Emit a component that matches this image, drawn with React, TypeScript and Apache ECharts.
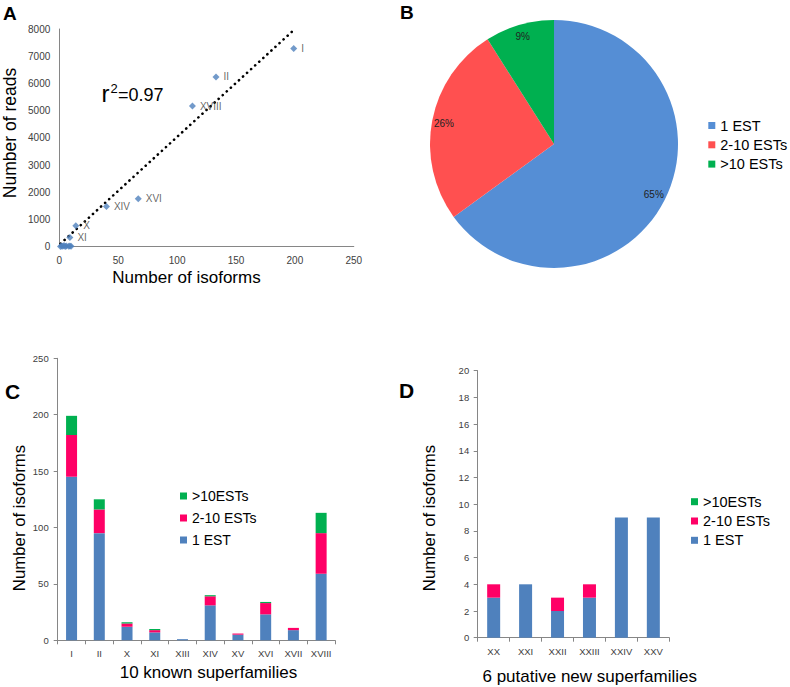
import React, { useEffect, useRef } from 'react';
import * as echarts from 'echarts';

// Panel A: scatter of isoforms vs reads
const scatterIsoforms = [199, 133, 113, 67, 40, 14, 9, 1, 2, 3, 4, 5, 6, 8, 9, 10];
const scatterReads = [7280, 6240, 5170, 1760, 1480, 770, 340, 10, 30, 20, 40, 10, 25, 15, 30, 20];
const scatterLabels = ['I', 'II', 'XVIII', 'XVI', 'XIV', 'X', 'XI', '', '', '', '', '', '', '', '', ''];
const trendIsoforms = [1, 200];
const trendReads = [110, 8000];

// Panel B: pie
const pieNames = ['1 EST', '2-10 ESTs', '>10 ESTs'];
const pieValues = [65, 26, 9];

// Panel C: known superfamilies
const knownFamilies = ['I', 'II', 'X', 'XI', 'XIII', 'XIV', 'XV', 'XVI', 'XVII', 'XVIII'];
const known1EST = [145, 95, 12, 7, 1, 31, 5, 23, 9, 59];
const known2to10 = [37, 21, 3, 2, 0, 8, 1, 10, 2, 36];
const knownOver10 = [17, 9, 1, 1, 0, 1, 0, 1, 0, 18];

// Panel D: putative new superfamilies
const newFamilies = ['XX', 'XXI', 'XXII', 'XXIII', 'XXIV', 'XXV'];
const new1EST = [3, 4, 2, 3, 9, 9];
const new2to10 = [1, 0, 1, 1, 0, 0];
const newOver10 = [0, 0, 0, 0, 0, 0];

const FONT = '"Liberation Sans", Arial, sans-serif';
const AXIS_GRAY = '#868686';
const BLUE = '#4F81BD';
const PINK = '#FF0066';
const GREEN = '#00B050';
const PIE_COLORS = ['#558ED5', '#FF5050', '#00B050'];

export default function App() {
  const ref = useRef<HTMLDivElement>(null);

  useEffect(() => {
    if (!ref.current) return;
    const chart = echarts.init(ref.current, undefined, { renderer: 'svg' });

    const tickLabel = (size: number, color: string, margin: number) => ({
      fontSize: size,
      color,
      fontFamily: FONT,
      margin,
      formatter: (v: any) => String(v),
    });

    const axisLine = { show: true, onZero: false, lineStyle: { color: AXIS_GRAY, width: 1 } };

    const barSeries = (
      name: string,
      data: number[],
      color: string,
      idx: number,
      stack: string,
      width: number
    ) => ({
      type: 'bar',
      name,
      data,
      stack,
      xAxisIndex: idx,
      yAxisIndex: idx,
      barWidth: width,
      itemStyle: { color },
      silent: true,
    });

    const legendText = { fontSize: 14.5, color: '#000', fontFamily: FONT, lineHeight: 15 };

    const axisName = (text: string, x: number, y: number, rotate = 0, size = 17) => ({
      type: 'text',
      x,
      y,
      rotation: rotate,
      style: {
        text,
        fontSize: size,
        fontFamily: FONT,
        fill: '#000',
        align: 'center',
        verticalAlign: 'middle',
      },
    });

    const panelLetter = (text: string, x: number, y: number, size: number) => ({
      type: 'text',
      x,
      y,
      style: {
        text,
        fontSize: size,
        fontWeight: 'bold',
        fontFamily: FONT,
        fill: '#000',
        align: 'left',
        verticalAlign: 'top',
      },
    });

    const option: any = {
      animation: false,
      backgroundColor: '#fff',
      textStyle: { fontFamily: FONT },
      grid: [
        { left: 59.3, top: 29, width: 294.5, height: 217.7 },
        { left: 57.7, top: 358.3, width: 277.3, height: 282 },
        { left: 477.7, top: 370.7, width: 191.6, height: 267 },
      ],
      xAxis: [
        {
          type: 'value',
          gridIndex: 0,
          min: 0,
          max: 250,
          interval: 50,
          axisLine,
          axisTick: { show: false },
          splitLine: { show: false },
          axisLabel: tickLabel(10, '#404040', 9),
        },
        {
          type: 'category',
          gridIndex: 1,
          data: knownFamilies,
          axisLine,
          axisTick: { show: true, length: 4, alignWithLabel: false, lineStyle: { color: AXIS_GRAY } },
          axisLabel: { ...tickLabel(9.5, '#404040', 8), interval: 0 },
          splitLine: { show: false },
        },
        {
          type: 'category',
          gridIndex: 2,
          data: newFamilies,
          axisLine,
          axisTick: { show: true, length: 4, alignWithLabel: false, lineStyle: { color: AXIS_GRAY } },
          axisLabel: { ...tickLabel(9.5, '#404040', 9), interval: 0 },
          splitLine: { show: false },
        },
      ],
      yAxis: [
        {
          type: 'value',
          gridIndex: 0,
          min: 0,
          max: 8000,
          interval: 1000,
          axisLine,
          axisTick: { show: false },
          splitLine: { show: false },
          axisLabel: tickLabel(10, '#404040', 9),
        },
        {
          type: 'value',
          gridIndex: 1,
          min: 0,
          max: 250,
          interval: 50,
          axisLine,
          axisTick: { show: true, length: 4, lineStyle: { color: AXIS_GRAY } },
          splitLine: { show: false },
          axisLabel: tickLabel(9.5, '#404040', 9),
        },
        {
          type: 'value',
          gridIndex: 2,
          min: 0,
          max: 20,
          interval: 2,
          axisLine,
          axisTick: { show: true, length: 4, lineStyle: { color: AXIS_GRAY } },
          splitLine: { show: false },
          axisLabel: tickLabel(9.5, '#404040', 8.5),
        },
      ],
      legend: [
        {
          orient: 'vertical',
          left: 708.3,
          top: 118,
          padding: 0,
          itemGap: 4.3,
          itemWidth: 7,
          itemHeight: 7,
          icon: 'rect',
          selectedMode: false,
          textStyle: legendText,
          data: pieNames.map((n, i) => ({ name: n, itemStyle: { color: PIE_COLORS[i] } })),
        },
        {
          orient: 'vertical',
          left: 180,
          top: 488.5,
          padding: 0,
          itemGap: 7,
          itemWidth: 7,
          itemHeight: 7,
          icon: 'rect',
          selectedMode: false,
          textStyle: { ...legendText, fontSize: 14 },
          data: [
            { name: '>10ESTs', itemStyle: { color: GREEN } },
            { name: '2-10 ESTs', itemStyle: { color: PINK } },
            { name: '1 EST', itemStyle: { color: BLUE } },
          ],
        },
        {
          orient: 'vertical',
          left: 691,
          top: 494.2,
          padding: 0,
          itemGap: 4.3,
          itemWidth: 7,
          itemHeight: 7,
          icon: 'rect',
          selectedMode: false,
          textStyle: legendText,
          data: [
            { name: '>10ESTs', itemStyle: { color: GREEN } },
            { name: '2-10 ESTs', itemStyle: { color: PINK } },
            { name: '1 EST', itemStyle: { color: BLUE } },
          ],
        },
      ],
      series: [
        {
          type: 'line',
          name: 'trend',
          xAxisIndex: 0,
          yAxisIndex: 0,
          data: trendIsoforms.map((x, i) => [x, trendReads[i]]),
          showSymbol: false,
          symbol: 'none',
          lineStyle: { color: '#000', width: 2.6, type: [0.1, 5.4], cap: 'round' },
          silent: true,
          z: 1,
        },
        {
          type: 'scatter',
          name: 'reads',
          xAxisIndex: 0,
          yAxisIndex: 0,
          symbol: 'diamond',
          symbolSize: 7,
          itemStyle: { color: BLUE },
          data: scatterIsoforms.map((x, i) => ({
            name: scatterLabels[i],
            value: [x, scatterReads[i]],
          })),
          label: {
            show: true,
            position: 'right',
            distance: 4,
            formatter: (p: any) => p.name,
            fontSize: 10,
            color: '#404040',
            fontFamily: FONT,
          },
          silent: true,
          z: 2,
        },
        {
          type: 'pie',
          name: 'pieB',
          center: [554, 144],
          radius: 124,
          startAngle: 90,
          clockwise: true,
          label: { show: false },
          labelLine: { show: false },
          silent: true,
          data: pieNames.map((n, i) => ({
            name: n,
            value: pieValues[i],
            itemStyle: { color: PIE_COLORS[i] },
          })),
        },
        {
          type: 'pie',
          name: 'pieBLabels',
          center: [554, 144],
          radius: [94, 124],
          startAngle: 90,
          clockwise: true,
          silent: true,
          labelLine: { show: false },
          itemStyle: { color: 'rgba(0,0,0,0)' },
          label: {
            show: true,
            position: 'inside',
            formatter: '{c}%',
            fontSize: 10,
            color: '#222',
            fontFamily: FONT,
          },
          data: pieNames.map((n, i) => ({ name: n, value: pieValues[i] })),
        },
        barSeries('1 EST', known1EST, BLUE, 1, 'c', 11),
        barSeries('2-10 ESTs', known2to10, PINK, 1, 'c', 11),
        barSeries('>10ESTs', knownOver10, GREEN, 1, 'c', 11),
        barSeries('1 EST', new1EST, BLUE, 2, 'd', 13),
        barSeries('2-10 ESTs', new2to10, PINK, 2, 'd', 13),
        barSeries('>10ESTs', newOver10, GREEN, 2, 'd', 13),
      ],
      graphic: [
        panelLetter('A', 3, 4, 19),
        panelLetter('B', 400, 3, 19),
        panelLetter('C', 5, 381, 21),
        panelLetter('D', 399, 380, 21),
        axisName('Number of isoforms', 186.5, 277),
        axisName('Number of reads', 10, 133, Math.PI / 2, 17.5),
        axisName('10 known superfamilies', 208.5, 672.7),
        axisName('Number of isoforms', 19, 518, Math.PI / 2, 16.8),
        axisName('6 putative new superfamilies', 589.7, 676.7),
        axisName('Number of isoforms', 429, 518, Math.PI / 2, 16.8),
        {
          type: 'text',
          x: 101.5,
          y: 93.3,
          style: { text: 'r', fontSize: 24, fontFamily: FONT, fill: '#000', align: 'left', verticalAlign: 'middle' },
        },
        {
          type: 'text',
          x: 110.5,
          y: 88.8,
          style: { text: '2', fontSize: 13, fontFamily: FONT, fill: '#000', align: 'left', verticalAlign: 'middle' },
        },
        {
          type: 'text',
          x: 118,
          y: 95.4,
          style: { text: '=0.97', fontSize: 18, fontFamily: FONT, fill: '#000', align: 'left', verticalAlign: 'middle' },
        },
      ],
    };

    chart.setOption(option);
    return () => {
      chart.dispose();
    };
  }, []);

  return (
    <div
      ref={ref}
      style={{ position: 'absolute', left: 0, top: 0, width: 790, height: 687, background: '#fff' }}
    />
  );
}
